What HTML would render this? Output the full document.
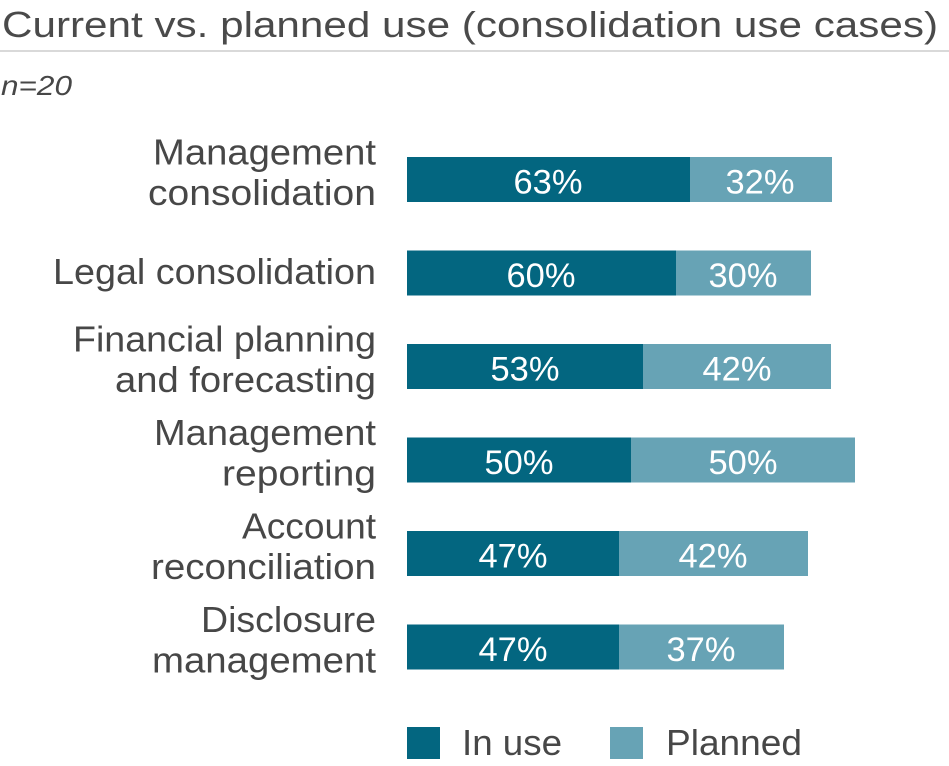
<!DOCTYPE html>
<html>
<head>
<meta charset="utf-8">
<style>
  html, body { margin: 0; padding: 0; background: #ffffff; }
  body { width: 949px; height: 766px; overflow: hidden; }
  svg { display: block; }
  .lbl { font-family: "Liberation Sans", sans-serif; font-size: 36px; fill: #474747; }
  .val { font-family: "Liberation Sans", sans-serif; font-size: 34px; fill: #ffffff; }
</style>
</head>
<body>
<svg width="949" height="766" viewBox="0 0 949 766" xmlns="http://www.w3.org/2000/svg">
  <!-- Title -->
  <text x="2" y="37" font-family="Liberation Sans, sans-serif" font-size="36" fill="#4a4a4a" textLength="936" lengthAdjust="spacingAndGlyphs">Current vs. planned use (consolidation use cases)</text>
  <rect x="0" y="50" width="949" height="2" fill="#d9d9d9"/>
  <text x="1" y="95" font-family="Liberation Sans, sans-serif" font-size="28" font-style="italic" fill="#474747" textLength="71" lengthAdjust="spacingAndGlyphs">n=20</text>

  <!-- Category labels -->
  <g class="lbl" text-anchor="end">
    <text x="376" y="164.5" textLength="223" lengthAdjust="spacingAndGlyphs">Management</text>
    <text x="376" y="205" textLength="228" lengthAdjust="spacingAndGlyphs">consolidation</text>

    <text x="376" y="284" textLength="323" lengthAdjust="spacingAndGlyphs">Legal consolidation</text>

    <text x="376" y="351.5" textLength="303" lengthAdjust="spacingAndGlyphs">Financial planning</text>
    <text x="376" y="392" textLength="261" lengthAdjust="spacingAndGlyphs">and forecasting</text>

    <text x="376" y="445" textLength="222" lengthAdjust="spacingAndGlyphs">Management</text>
    <text x="376" y="485.5" textLength="154" lengthAdjust="spacingAndGlyphs">reporting</text>

    <text x="376" y="538.5" textLength="134" lengthAdjust="spacingAndGlyphs">Account</text>
    <text x="376" y="579" textLength="225" lengthAdjust="spacingAndGlyphs">reconciliation</text>

    <text x="376" y="632" textLength="175" lengthAdjust="spacingAndGlyphs">Disclosure</text>
    <text x="376" y="672.5" textLength="224" lengthAdjust="spacingAndGlyphs">management</text>
  </g>

  <!-- Bars -->
  <g>
    <rect x="407" y="157" width="283" height="45" fill="#036680"/>
    <rect x="690" y="157" width="142" height="45" fill="#67a3b5"/>

    <rect x="407" y="250.5" width="269" height="45" fill="#036680"/>
    <rect x="676" y="250.5" width="135" height="45" fill="#67a3b5"/>

    <rect x="407" y="344" width="236" height="45" fill="#036680"/>
    <rect x="643" y="344" width="188" height="45" fill="#67a3b5"/>

    <rect x="407" y="437.5" width="224" height="45" fill="#036680"/>
    <rect x="631" y="437.5" width="224" height="45" fill="#67a3b5"/>

    <rect x="407" y="531" width="212" height="45" fill="#036680"/>
    <rect x="619" y="531" width="189" height="45" fill="#67a3b5"/>

    <rect x="407" y="624.5" width="212" height="45" fill="#036680"/>
    <rect x="619" y="624.5" width="165" height="45" fill="#67a3b5"/>
  </g>

  <!-- Value labels -->
  <g class="val" text-anchor="middle">
    <text x="548" y="193.5" textLength="69" lengthAdjust="spacingAndGlyphs">63%</text>
    <text x="760" y="193.5" textLength="69" lengthAdjust="spacingAndGlyphs">32%</text>

    <text x="541" y="287" textLength="69" lengthAdjust="spacingAndGlyphs">60%</text>
    <text x="743" y="287" textLength="69" lengthAdjust="spacingAndGlyphs">30%</text>

    <text x="525" y="380.5" textLength="69" lengthAdjust="spacingAndGlyphs">53%</text>
    <text x="737" y="380.5" textLength="69" lengthAdjust="spacingAndGlyphs">42%</text>

    <text x="519" y="474" textLength="69" lengthAdjust="spacingAndGlyphs">50%</text>
    <text x="743" y="474" textLength="69" lengthAdjust="spacingAndGlyphs">50%</text>

    <text x="513" y="567.5" textLength="69" lengthAdjust="spacingAndGlyphs">47%</text>
    <text x="713" y="567.5" textLength="69" lengthAdjust="spacingAndGlyphs">42%</text>

    <text x="513" y="661" textLength="69" lengthAdjust="spacingAndGlyphs">47%</text>
    <text x="701" y="661" textLength="69" lengthAdjust="spacingAndGlyphs">37%</text>
  </g>

  <!-- Legend -->
  <rect x="407" y="727" width="33" height="32" fill="#036680"/>
  <text x="462" y="755" class="lbl" textLength="100" lengthAdjust="spacingAndGlyphs">In use</text>
  <rect x="610" y="727" width="33" height="32" fill="#67a3b5"/>
  <text x="666" y="755" class="lbl" textLength="136" lengthAdjust="spacingAndGlyphs">Planned</text>
</svg>
</body>
</html>
